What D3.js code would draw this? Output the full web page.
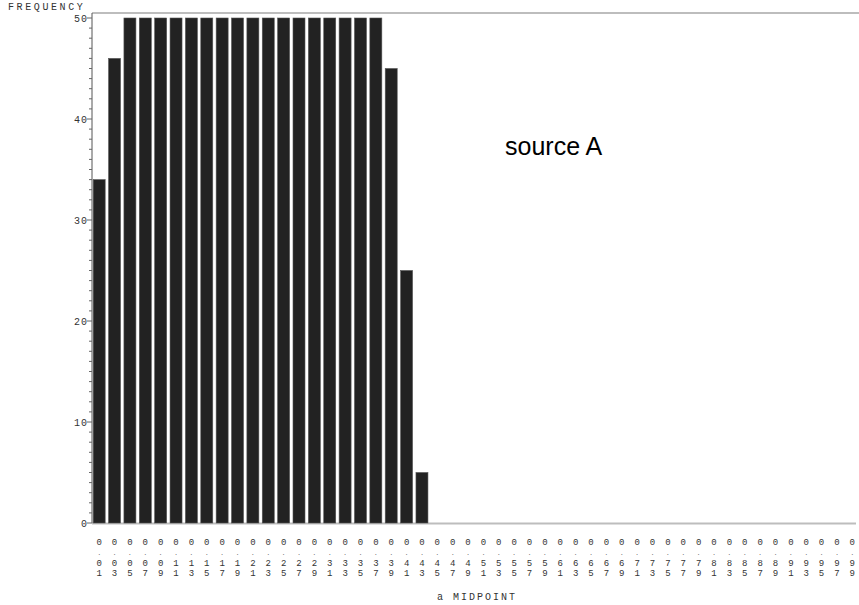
<!DOCTYPE html>
<html>
<head>
<meta charset="utf-8">
<script src="https://cdn.jsdelivr.net/npm/d3@7"></script>
<style>
  html, body { margin: 0; padding: 0; background: #fff; }
  svg { display: block; }
</style>
</head>
<body>
<svg id="chart" width="859" height="605"></svg>
<script>
// Midpoints 0.01 .. 0.99 in steps of 0.02
const midpoints = ["0.01","0.03","0.05","0.07","0.09","0.11","0.13","0.15","0.17","0.19",
  "0.21","0.23","0.25","0.27","0.29","0.31","0.33","0.35","0.37","0.39",
  "0.41","0.43","0.45","0.47","0.49","0.51","0.53","0.55","0.57","0.59",
  "0.61","0.63","0.65","0.67","0.69","0.71","0.73","0.75","0.77","0.79",
  "0.81","0.83","0.85","0.87","0.89","0.91","0.93","0.95","0.97","0.99"];
const frequency = [34,46,50,50,50,50,50,50,50,50,
  50,50,50,50,50,50,50,50,50,45,
  25,5,0,0,0,0,0,0,0,0,
  0,0,0,0,0,0,0,0,0,0,
  0,0,0,0,0,0,0,0,0,0];
const yMajorTicks = [0,10,20,30,40,50];
const yLabel = "FREQUENCY";
const xLabel = "a MIDPOINT";
const note = "source A";

const svg = d3.select("#chart");
const plotLeft = 92, plotRight = 860, plotTop = 18, plotBottom = 523;

const x = d3.scaleBand().domain(midpoints).range([plotLeft - 0.5, plotRight]).paddingInner(0.22).paddingOuter(0.11);
const y = d3.scaleLinear().domain([0, 50]).range([plotBottom, plotTop]);

const mono = "'Liberation Mono', 'Courier New', monospace";
const textColor = "#333";

// frame lines
svg.append("line").attr("x1", plotLeft).attr("x2", 859).attr("y1", 13).attr("y2", 13)
  .attr("stroke", "#bdbdbd").attr("stroke-width", 2);
svg.append("line").attr("x1", plotLeft).attr("x2", 856).attr("y1", plotBottom + 0.5).attr("y2", plotBottom + 0.5)
  .attr("stroke", "#bdbdbd").attr("stroke-width", 2);

// bars
svg.append("g").selectAll("rect").data(midpoints.map((m, i) => ({m, v: frequency[i]})).filter(d => d.v > 0))
  .join("rect")
  .attr("x", d => x(d.m))
  .attr("width", x.bandwidth())
  .attr("y", d => y(d.v))
  .attr("height", d => y(0) - y(d.v))
  .attr("fill", "#222")
  .attr("stroke", "#555")
  .attr("stroke-width", 0.6);

// y axis with minor ticks every unit
const yAxisG = svg.append("g").attr("transform", `translate(${plotLeft},0)`);
yAxisG.append("line").attr("x1", 0).attr("x2", 0).attr("y1", 13).attr("y2", plotBottom)
  .attr("stroke", "#555").attr("stroke-width", 1);
const minor = d3.range(0, 51);
yAxisG.selectAll("line.minor").data(minor).join("line")
  .attr("class", "minor")
  .attr("x1", d => yMajorTicks.includes(d) ? -5 : -3).attr("x2", 0)
  .attr("y1", d => y(d)).attr("y2", d => y(d))
  .attr("stroke", "#666").attr("stroke-width", 1);
yAxisG.selectAll("text.tick").data(yMajorTicks).join("text")
  .attr("class", "tick")
  .attr("x", -4).attr("y", d => y(d) + 3.5)
  .attr("text-anchor", "end")
  .attr("font-family", mono).attr("font-size", 10).attr("fill", textColor)
  .attr("letter-spacing", 1)
  .text(d => d);

svg.append("text").attr("x", 8).attr("y", 10)
  .attr("font-family", mono).attr("font-size", 10).attr("fill", textColor)
  .attr("letter-spacing", 2.6)
  .text(yLabel);

// x tick labels, stacked vertically character by character
const xt = svg.append("g").selectAll("text").data(midpoints).join("text")
  .attr("font-family", mono).attr("font-size", 9).attr("fill", textColor)
  .attr("text-anchor", "middle");
const rowsY = [545, 555, 565.5, 576];
xt.each(function(d) {
  const t = d3.select(this);
  const cx = x(d) + x.bandwidth() / 2;
  d.split("").forEach((ch, k) => {
    t.append("tspan").attr("x", cx).attr("y", rowsY[k])
      .attr("font-size", ch === "." ? 6 : null)
      .text(ch);
  });
});

svg.append("text").attr("x", 477).attr("y", 600)
  .attr("text-anchor", "middle")
  .attr("font-family", mono).attr("font-size", 10).attr("fill", textColor)
  .attr("letter-spacing", 2)
  .text(xLabel);

svg.append("text").attr("x", 505).attr("y", 155)
  .attr("font-family", "'Liberation Sans', Arial, sans-serif").attr("font-size", 25).attr("fill", "#000")
  .text(note);
</script>
</body>
</html>
